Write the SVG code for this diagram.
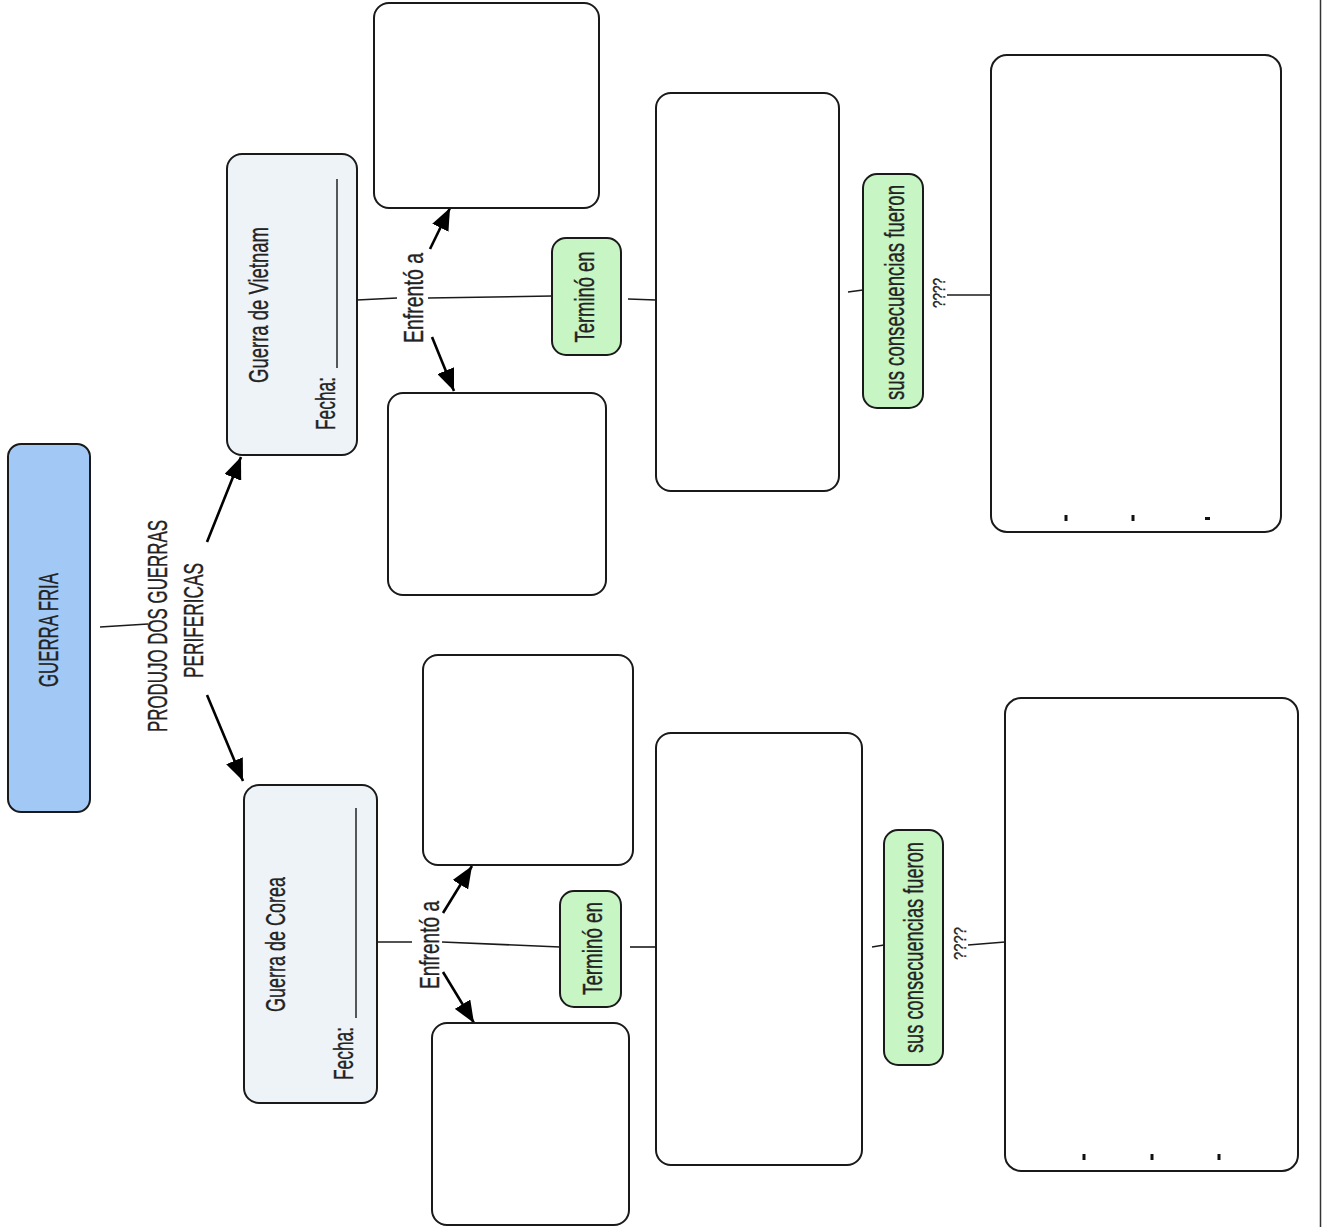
<svg xmlns="http://www.w3.org/2000/svg" width="1322" height="1227" viewBox="0 0 1322 1227">
<style>
text{font-family:"Liberation Sans",Arial,sans-serif;fill:#222;stroke:#222;stroke-width:0.35;}
.lbl{font-size:28px;}
.q{font-size:17px;}
.box{fill:#fff;stroke:#1a1a1a;stroke-width:2;}
.main{fill:#a2c9f5;stroke:#1a1a1a;stroke-width:2;}
.war{fill:#eef3f7;stroke:#1a1a1a;stroke-width:2;}
.grn{fill:#c8f5c4;stroke:#1a1a1a;stroke-width:2;}
.con{stroke:#1a1a1a;stroke-width:1.6;fill:none;}
.arr{stroke:#000;stroke-width:2.6;fill:none;marker-end:url(#ah);}
.tick{stroke:#111;stroke-width:3;}
</style>
<defs>
<marker id="ah" markerUnits="userSpaceOnUse" markerWidth="22" markerHeight="18" refX="22" refY="9" orient="auto" viewBox="0 0 22 18">
<path d="M0,0 L22,9 L0,18 z" fill="#000"/>
</marker>
</defs>
<rect width="1322" height="1227" fill="#fff"/>
<line x1="1320.5" y1="0" x2="1320.5" y2="1227" stroke="#333" stroke-width="1.5"/>

<g id="connectors">
<line class="con" x1="100" y1="627" x2="148" y2="624"/>
<line class="arr" x1="207" y1="542" x2="241" y2="457"/>
<line class="arr" x1="207" y1="695" x2="243" y2="781"/>
<line class="con" x1="357" y1="300" x2="397" y2="298"/>
<line class="con" x1="428" y1="298" x2="552" y2="296"/>
<line class="arr" x1="430" y1="249" x2="450" y2="208"/>
<line class="arr" x1="432" y1="337" x2="454" y2="391"/>
<line class="con" x1="628" y1="299" x2="656" y2="300"/>
<line class="con" x1="848" y1="292" x2="863" y2="290"/>
<line class="con" x1="947" y1="295" x2="991" y2="295"/>
<line class="con" x1="377" y1="942" x2="412" y2="942"/>
<line class="con" x1="442" y1="942" x2="560" y2="947"/>
<line class="arr" x1="443" y1="913" x2="472" y2="866"/>
<line class="arr" x1="443" y1="972" x2="474" y2="1023"/>
<line class="con" x1="630" y1="947" x2="656" y2="947"/>
<line class="con" x1="872" y1="947" x2="884" y2="945"/>
<line class="con" x1="968" y1="945" x2="1005" y2="942"/>
</g>

<g id="guerra-fria">
<rect class="main" x="8" y="444" width="82" height="368" rx="13"/>
<text class="lbl" transform="translate(58,630) rotate(-90)" text-anchor="middle" textLength="114" lengthAdjust="spacingAndGlyphs">GUERRA FRIA</text>
</g>

<g id="label-produjo">
<text class="lbl" transform="translate(167,626) rotate(-90)" text-anchor="middle" textLength="212" lengthAdjust="spacingAndGlyphs">PRODUJO DOS GUERRAS</text>
<text class="lbl" transform="translate(203,620.5) rotate(-90)" text-anchor="middle" textLength="115" lengthAdjust="spacingAndGlyphs">PERIFERICAS</text>
</g>

<g id="vietnam">
<rect class="war" x="227" y="154" width="130" height="301" rx="15"/>
<text class="lbl" transform="translate(268,305) rotate(-90)" text-anchor="middle" textLength="156" lengthAdjust="spacingAndGlyphs">Guerra de Vietnam</text>
<text class="lbl" transform="translate(335,430) rotate(-90)" text-anchor="start" textLength="53" lengthAdjust="spacingAndGlyphs">Fecha:</text>
<line x1="337" y1="368" x2="337" y2="179" stroke="#222" stroke-width="1.5"/>
</g>
<g id="vietnam-enfrento">
<text class="lbl" transform="translate(423,298) rotate(-90)" text-anchor="middle" textLength="90" lengthAdjust="spacingAndGlyphs">Enfrentó a</text>
</g>
<g id="vietnam-opp1"><rect class="box" x="374" y="3" width="225" height="205" rx="15"/></g>
<g id="vietnam-opp2"><rect class="box" x="388" y="393" width="218" height="202" rx="15"/></g>
<g id="vietnam-termino">
<rect class="grn" x="552" y="238" width="69" height="117" rx="14"/>
<text class="lbl" transform="translate(594,297) rotate(-90)" text-anchor="middle" textLength="91" lengthAdjust="spacingAndGlyphs">Terminó en</text>
</g>
<g id="vietnam-fin"><rect class="box" x="656" y="93" width="183" height="398" rx="15"/></g>
<g id="vietnam-consec-label">
<rect class="grn" x="863" y="174" width="60" height="234" rx="14"/>
<text class="lbl" transform="translate(904,292.5) rotate(-90)" text-anchor="middle" textLength="215" lengthAdjust="spacingAndGlyphs">sus consecuencias fueron</text>
</g>
<g id="vietnam-q">
<text class="q" transform="translate(945,293) rotate(-90)" text-anchor="middle" textLength="30" lengthAdjust="spacingAndGlyphs">????</text>
</g>
<g id="vietnam-consec">
<rect class="box" x="991" y="55" width="290" height="477" rx="16"/>
<line class="tick" x1="1066" y1="515" x2="1066" y2="521"/>
<line class="tick" x1="1133" y1="515" x2="1133" y2="521"/>
<line class="tick" x1="1205" y1="518.5" x2="1210" y2="518.5"/>
</g>

<g id="corea">
<rect class="war" x="244" y="785" width="133" height="318" rx="15"/>
<text class="lbl" transform="translate(285,944.5) rotate(-90)" text-anchor="middle" textLength="135" lengthAdjust="spacingAndGlyphs">Guerra de Corea</text>
<text class="lbl" transform="translate(353,1080) rotate(-90)" text-anchor="start" textLength="53" lengthAdjust="spacingAndGlyphs">Fecha:</text>
<line x1="356" y1="1018" x2="356" y2="808" stroke="#222" stroke-width="1.5"/>
</g>
<g id="corea-enfrento">
<text class="lbl" transform="translate(439,945) rotate(-90)" text-anchor="middle" textLength="88" lengthAdjust="spacingAndGlyphs">Enfrentó a</text>
</g>
<g id="corea-opp1"><rect class="box" x="423" y="655" width="210" height="210" rx="15"/></g>
<g id="corea-opp2"><rect class="box" x="432" y="1023" width="197" height="202" rx="15"/></g>
<g id="corea-termino">
<rect class="grn" x="560" y="891" width="61" height="116" rx="14"/>
<text class="lbl" transform="translate(602,948.5) rotate(-90)" text-anchor="middle" textLength="93" lengthAdjust="spacingAndGlyphs">Terminó en</text>
</g>
<g id="corea-fin"><rect class="box" x="656" y="733" width="206" height="432" rx="15"/></g>
<g id="corea-consec-label">
<rect class="grn" x="884" y="830" width="59" height="235" rx="14"/>
<text class="lbl" transform="translate(923,947.5) rotate(-90)" text-anchor="middle" textLength="211" lengthAdjust="spacingAndGlyphs">sus consecuencias fueron</text>
</g>
<g id="corea-q">
<text class="q" transform="translate(966,943.5) rotate(-90)" text-anchor="middle" textLength="33" lengthAdjust="spacingAndGlyphs">????</text>
</g>
<g id="corea-consec">
<rect class="box" x="1005" y="698" width="293" height="473" rx="16"/>
<line class="tick" x1="1084" y1="1154" x2="1084" y2="1160"/>
<line class="tick" x1="1152" y1="1154" x2="1152" y2="1160"/>
<line class="tick" x1="1219" y1="1154" x2="1219" y2="1160"/>
</g>
</svg>
